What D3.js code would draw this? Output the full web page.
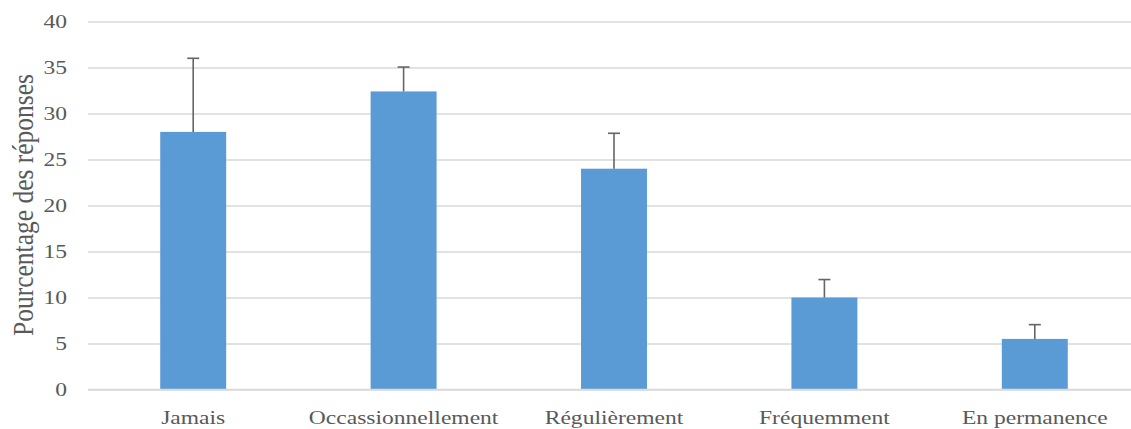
<!DOCTYPE html>
<html>
<head>
<meta charset="utf-8">
<script src="https://cdn.jsdelivr.net/npm/d3@7"></script>
<style>
  html, body { margin: 0; padding: 0; background: #fff; overflow: hidden; }
  svg { display: block; }
</style>
</head>
<body>
<svg id="chart" width="1131" height="429"></svg>
<script>
const categories = ["Jamais", "Occassionnellement", "Régulièrement", "Fréquemment", "En permanence"];
const values = [28.0, 32.4, 24.0, 10.0, 5.5];
const errorTops = [36.0, 35.05, 27.85, 11.95, 7.05];
const yTicks = [0, 5, 10, 15, 20, 25, 30, 35, 40];
const yTitle = "Pourcentage des réponses";

const svg = d3.select("#chart");
const font = "Liberation Serif";
const textColor = "#595959";
const stretch = 1.24;

const x = d3.scaleBand().domain(categories).range([88, 1140]).paddingInner(2.19/3.19).paddingOuter(2.19/3.19/2);
const y = d3.scaleLinear().domain([0, 40]).range([389.5, 21.5]);

// gridlines + y tick labels
const yAxis = d3.axisLeft(y).tickValues(yTicks).tickSize(-(1140 - 88)).tickPadding(17);
const gy = svg.append("g").attr("transform", "translate(88,0)").call(yAxis);
gy.select(".domain").remove();
gy.selectAll(".tick line").attr("stroke", "#d9d9d9").attr("stroke-width", 1.3);
gy.selectAll(".tick text")
  .attr("fill", textColor)
  .attr("font-family", font).style("font-family", font).style("font-size", "19px")
  .attr("transform", `scale(${stretch},1)`);

// bars
svg.append("g").selectAll("rect").data(categories).join("rect")
  .attr("x", d => x(d))
  .attr("width", x.bandwidth())
  .attr("y", (d, i) => y(values[i]))
  .attr("height", (d, i) => y(0) - y(values[i]))
  .attr("fill", "#5b9bd5");

// error bars
const eb = svg.append("g").attr("stroke", "#656565").attr("stroke-width", 1.6);
categories.forEach((c, i) => {
  const cx = x(c) + x.bandwidth() / 2;
  eb.append("line").attr("x1", cx).attr("x2", cx).attr("y1", y(values[i])).attr("y2", y(errorTops[i]));
  eb.append("line").attr("x1", cx - 6).attr("x2", cx + 6).attr("y1", y(errorTops[i])).attr("y2", y(errorTops[i]));
});

// x axis
const xAxis = d3.axisBottom(x).tickSize(0).tickPadding(21);
const gx = svg.append("g").attr("transform", `translate(0,${y(0)})`).call(xAxis);
gx.select(".domain").attr("stroke", "#d9d9d9").attr("stroke-width", 1.3).attr("d", "M88,0H1140");
gx.selectAll(".tick text")
  .attr("fill", textColor)
  .attr("font-family", font).style("font-family", font).style("font-size", "19px")
  .attr("transform", `scale(${stretch},1)`);

// y title
svg.append("text")
  .attr("transform", "translate(33,205) scale(1.15,1) rotate(-90)")
  .attr("text-anchor", "middle")
  .attr("fill", textColor)
  .attr("font-family", font)
  .style("font-family", font)
  .style("font-size", "25.5px")
  .text(yTitle);
</script>
</body>
</html>
